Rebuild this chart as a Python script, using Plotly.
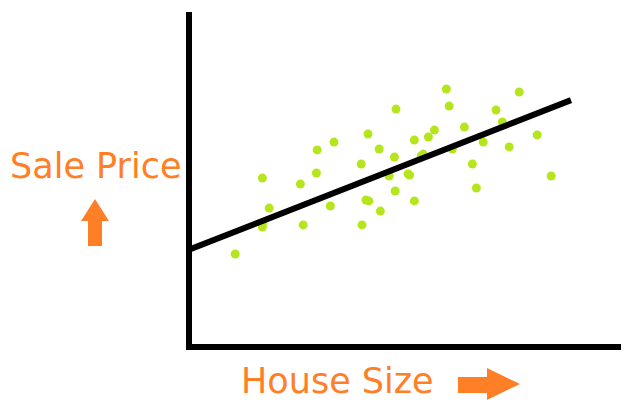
import plotly.graph_objects as go

# House size (x) and sale price (y), arbitrary units
house_size = [52.0, 45.0, 36.5, 32.3, 47.8, 51.6, 43.3, 18.6, 32.1, 28.1, 50.3, 51.8,
              44.5, 45.2, 20.3, 35.6, 48.1, 18.6, 18.7, 28.8, 43.5, 11.8, 64.6, 82.8,
              65.3, 77.0, 78.6, 61.6, 60.1, 69.1, 56.6, 87.3, 58.3, 58.8, 66.1, 73.8,
              80.3, 71.1, 55.0, 55.4, 72.1, 90.8, 56.6]
sale_price = [79.3, 71.0, 68.3, 65.7, 66.0, 63.3, 61.0, 56.3, 58.0, 54.3, 57.0, 52.0,
              49.0, 48.7, 46.3, 47.0, 45.3, 40.0, 41.3, 40.7, 40.7, 31.0, 86.0, 85.0,
              80.3, 79.0, 75.0, 72.3, 70.0, 73.3, 69.0, 70.7, 63.7, 64.3, 66.0, 68.3,
              66.7, 61.0, 57.7, 57.3, 53.0, 57.0, 48.7]

# Regression line end points
fit_x = [0.0, 95.75]
fit_y = [32.3, 82.3]

x_label = "House Size"
y_label = "Sale Price"

ORANGE = "#FF7F27"
GREEN = "#B5E61D"

W, H = 634, 411
L, R, T, B = 192, 13, 12, 67
PW, PH = W - L - R, H - T - B
# data origin (0,0) sits at pixel (188, 347); 4 px per x unit, 3 px per y unit
OX, OY, SX, SY = 188, 347, 4.0, 3.0


def px(xp):
    return (xp - L) / PW


def py(yp):
    return (H - B - yp) / PH


fig = go.Figure()
fig.add_trace(go.Scatter(x=house_size, y=sale_price, mode="markers",
                         marker=dict(color=GREEN, size=9, line=dict(width=0)),
                         showlegend=False, hoverinfo="skip"))
fig.add_trace(go.Scatter(x=fit_x, y=fit_y, mode="lines",
                         line=dict(color="black", width=6),
                         showlegend=False, hoverinfo="skip"))

font_family = "Comic Sans MS, DejaVu Sans, sans-serif"
fig.add_annotation(text=y_label, xref="paper", yref="paper", x=px(95.5), y=py(166),
                   showarrow=False, xanchor="center", yanchor="middle",
                   font=dict(family=font_family, size=35, color=ORANGE))
fig.add_annotation(text=x_label, xref="paper", yref="paper", x=px(337), y=py(381),
                   showarrow=False, xanchor="center", yanchor="middle",
                   font=dict(family=font_family, size=35, color=ORANGE))


def poly(points):
    return "M " + " L ".join(f"{px(a):.4f},{py(b):.4f}" for a, b in points) + " Z"


up_arrow = [(95, 199), (81, 221), (88, 221), (88, 246), (102, 246), (102, 221), (109, 221)]
right_arrow = [(458, 377), (487, 377), (487, 368), (520, 384), (487, 400), (487, 393), (458, 393)]
for pts in (up_arrow, right_arrow):
    fig.add_shape(type="path", xref="paper", yref="paper", path=poly(pts),
                  fillcolor=ORANGE, line=dict(width=0))

axis_common = dict(showline=True, linecolor="black", linewidth=6, showgrid=False,
                   zeroline=False, showticklabels=False, ticks="", mirror=False)
fig.update_xaxes(range=[(L - OX) / SX, (W - R - OX) / SX], **axis_common)
fig.update_yaxes(range=[(OY - (H - B)) / SY, (OY - T) / SY], **axis_common)

fig.update_layout(width=W, height=H, margin=dict(l=L, r=R, t=T, b=B),
                  paper_bgcolor="white", plot_bgcolor="white")

fig.write_html("out.html", config={"displayModeBar": False},
               post_script="document.body.style.margin='0';")
